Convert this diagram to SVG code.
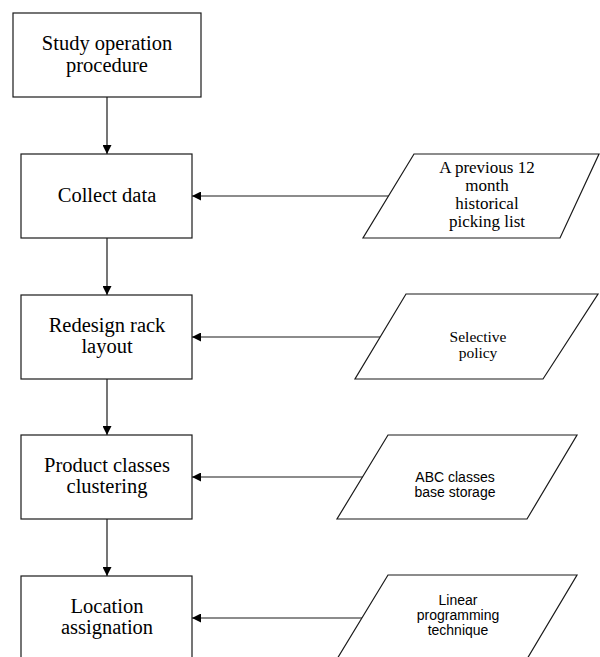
<svg xmlns="http://www.w3.org/2000/svg" width="600" height="657" viewBox="0 0 600 657">
<defs>
<style>
.box{fill:#fff;stroke:#1a1a1a;stroke-width:1.2}
.ln{fill:none;stroke:#1a1a1a;stroke-width:1.2}
.t{font-family:"Liberation Serif","Times New Roman",serif;fill:#000;text-anchor:middle}
.b{font-size:20.5px}
.a{font-family:"Liberation Sans",Arial,sans-serif;fill:#000;text-anchor:middle;font-size:14px}
</style>
<marker id="ah" viewBox="0 0 10 10" refX="10" refY="5" markerWidth="9" markerHeight="9" markerUnits="userSpaceOnUse" orient="auto">
<path d="M0,0 L10,5 L0,10 z" fill="#000"/>
</marker>
</defs>
<rect width="600" height="657" fill="#fff"/>
<g id="connectors">
<line class="ln" x1="107" y1="97" x2="107" y2="154" marker-end="url(#ah)"/>
<line class="ln" x1="107" y1="238" x2="107" y2="295" marker-end="url(#ah)"/>
<line class="ln" x1="107" y1="379" x2="107" y2="435" marker-end="url(#ah)"/>
<line class="ln" x1="107" y1="519" x2="107" y2="576" marker-end="url(#ah)"/>
<line class="ln" x1="389" y1="196" x2="192" y2="196" marker-end="url(#ah)"/>
<line class="ln" x1="380" y1="337" x2="192" y2="337" marker-end="url(#ah)"/>
<line class="ln" x1="363" y1="477" x2="192" y2="477" marker-end="url(#ah)"/>
<line class="ln" x1="362" y1="618" x2="192" y2="618" marker-end="url(#ah)"/>
</g>
<g id="study">
<rect class="box" x="13" y="13" width="188" height="84"/>
<text class="t b" x="107" y="50">Study operation</text>
<text class="t b" x="107" y="72">procedure</text>
</g>
<g id="collect">
<rect class="box" x="21" y="154" width="171" height="84"/>
<text class="t b" x="107" y="202">Collect data</text>
</g>
<g id="redesign">
<rect class="box" x="21" y="295" width="171" height="84"/>
<text class="t b" x="107" y="332">Redesign rack</text>
<text class="t b" x="107" y="353">layout</text>
</g>
<g id="product">
<rect class="box" x="21" y="435" width="171" height="84"/>
<text class="t b" x="107" y="472">Product classes</text>
<text class="t b" x="107" y="493">clustering</text>
</g>
<g id="location">
<rect class="box" x="21" y="576" width="171" height="110"/>
<text class="t b" x="107" y="613">Location</text>
<text class="t b" x="107" y="634">assignation</text>
</g>
<g id="picking">
<polygon class="box" points="414,154 599,154 560,238 363,238"/>
<text class="t" x="487" y="173" font-size="17">A previous 12</text>
<text class="t" x="487" y="191" font-size="17">month</text>
<text class="t" x="487" y="209" font-size="17">historical</text>
<text class="t" x="487" y="227" font-size="17">picking list</text>
</g>
<g id="selective">
<polygon class="box" points="406,294 598,294 543,379 355,379"/>
<text class="t" x="478" y="342" font-size="15.5">Selective</text>
<text class="t" x="478" y="358" font-size="15.5">policy</text>
</g>
<g id="abc">
<polygon class="box" points="388,435 577,435 527,519 337,519"/>
<text class="a" x="455" y="482">ABC classes</text>
<text class="a" x="455" y="497">base storage</text>
</g>
<g id="linear">
<polygon class="box" points="388,575 577,575 527,659 337,659"/>
<text class="a" x="458" y="605">Linear</text>
<text class="a" x="458" y="620">programming</text>
<text class="a" x="458" y="635">technique</text>
</g>
</svg>
